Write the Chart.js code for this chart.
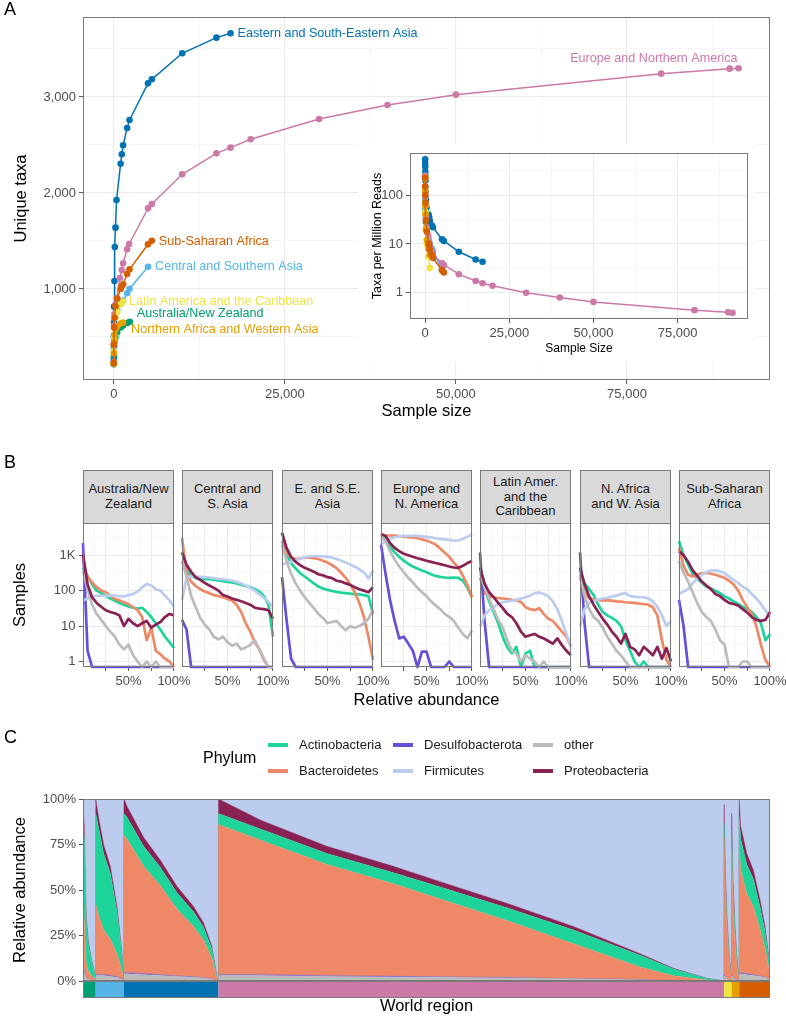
<!DOCTYPE html>
<html>
<head>
<meta charset="utf-8">
<script src="https://cdn.jsdelivr.net/npm/chart.js@4.4.1/dist/chart.umd.min.js"></script>
<style>
  body { margin: 0; background: #fff; font-family: 'Liberation Sans', Arial, sans-serif; }
  #page { position: relative; width: 786px; height: 1019px; overflow: hidden; background: #fff; }
  canvas { position: absolute; }
  .txt { position: absolute; white-space: nowrap; line-height: 1.15; }
  .strip { position: absolute; box-sizing: border-box; background: #d9d9d9; border: 1px solid #7a7a7a;
           display: flex; align-items: center; justify-content: center; text-align: center;
           font-size: 13px; line-height: 14.6px; color: #1a1a1a; }
  .swatch { position: absolute; width: 20px; height: 3.5px; }
</style>
</head>
<body>
<div id="page">
  <canvas id="rare" width="786" height="424" style="left:0;top:0"></canvas>
  <canvas id="inset" width="397" height="218" style="left:358px;top:144px;background:#fff"></canvas>
  <canvas id="comp" width="786" height="299" style="left:0;top:720px"></canvas>
</div>
<script>
// ---------- A: rarefaction curves ----------
const regions = ['Australia/New Zealand', 'Central and Southern Asia', 'Eastern and South-Eastern Asia',
  'Europe and Northern America', 'Latin America and the Caribbean', 'Northern Africa and Western Asia', 'Sub-Saharan Africa'];
const regionColors = ['#009E73', '#56B4E9', '#0072B2', '#CC79A7', '#F0E442', '#E69F00', '#D55E00'];

const sampleSizes = [
  [1, 10, 50, 100, 250, 500, 1000, 1360, 1950, 2340],
  [1, 10, 50, 100, 250, 500, 1000, 1360, 1950, 2300, 5015],
  [1, 10, 25, 50, 100, 150, 250, 400, 1000, 1170, 1360, 1950, 2300, 5000, 5560, 10000, 15000, 17060],
  [1, 10, 50, 100, 250, 440, 880, 1170, 1360, 1950, 2240, 5000, 5560, 10000, 15000, 17060, 20000, 30000, 40000, 50000, 80000, 90000, 91300],
  [1, 10, 50, 100, 250, 500, 1000, 1360],
  [1, 10, 50, 100, 250, 500, 1000, 1360],
  [1, 10, 50, 100, 250, 500, 1000, 1170, 1360, 1950, 2300, 5000, 5560]
];
const uniqueTaxa = [
  [215, 300, 400, 450, 500, 550, 600, 620, 645, 659],
  [250, 380, 520, 600, 700, 780, 850, 880, 955, 1003, 1232],
  [260, 500, 650, 816, 1083, 1437, 1639, 1927, 2305, 2403, 2497, 2677, 2760, 3142, 3184, 3455, 3618, 3663],
  [240, 420, 620, 740, 840, 906, 1114, 1198, 1268, 1413, 1469, 1840, 1885, 2195, 2413, 2472, 2559, 2771, 2917, 3024, 3243, 3295, 3299],
  [230, 350, 500, 600, 700, 760, 840, 868],
  [220, 330, 450, 520, 580, 610, 640, 650],
  [230, 420, 600, 700, 820, 900, 1000, 1030, 1050, 1156, 1205, 1465, 1503]
];
const taxaPerMillion = [
  [250, 150, 80, 50, 28, 18, 10, 8, 6, 5.5],
  [250, 140, 90, 65, 35, 22, 13, 10, 8, 7, 3],
  [540, 450, 380, 300, 200, 120, 80, 55, 40, 35, 30, 24, 22, 12.5, 11.5, 6.9, 4.8, 4.3],
  [250, 150, 90, 60, 35, 22, 15, 11, 9, 7, 6.2, 4.0, 3.7, 2.4, 1.74, 1.56, 1.39, 1.0, 0.80, 0.65, 0.44, 0.40, 0.39],
  [230, 130, 70, 45, 20, 10, 5.5, 3.2],
  [220, 120, 60, 40, 20, 12, 8, 6],
  [230, 150, 100, 70, 30, 18, 10, 9.5, 7.7, 5.9, 5.2, 2.9, 2.6]
];
const sizeTicks = [0, 25000, 50000, 75000];
const taxaTicks = [1000, 2000, 3000];

// ---------- B: phylum abundance histograms ----------
const facetNames = [['Australia/New', 'Zealand'], ['Central and', 'S. Asia'], ['E. and S.E.', 'Asia'],
  ['Europe and', 'N. America'], ['Latin Amer.', 'and the', 'Caribbean'], ['N. Africa', 'and W. Asia'], ['Sub-Saharan', 'Africa']];
const phyla = ['Actinobacteria', 'Bacteroidetes', 'Desulfobacterota', 'Firmicutes', 'other', 'Proteobacteria'];
const phylumColors = ['#1ED49A', '#EE8866', '#6650D8', '#BBCCEE', '#BBBBBB', '#882255'];
const abundance = [0, 5, 10, 15, 20, 25, 30, 35, 40, 45, 50, 55, 60, 65, 70, 75, 80, 85, 90, 95, 100];

// rows follow facetNames
const actinoSamples = [
  [450, 260, 150, 100, 85, 70, 60, 52, 45, 40, 36, 33, 31, 33, 25, 18, 12, 8, 5, 3.5, 2.4],
  [690, 380, 260, 230, 215, 210, 215, 200, 195, 185, 175, 170, 160, 145, 135, 125, 110, 95, 70, 40, 5],
  [2000, 1100, 600, 420, 310, 250, 200, 160, 130, 115, 105, 98, 92, 88, 85, 82, 80, 78, 75, 70, 22],
  [3800, 3000, 1700, 1200, 900, 700, 570, 480, 420, 370, 330, 290, 260, 245, 235, 230, 235, 230, 190, 120, 65],
  [365, 110, 50, 25, 12, 5, 2.5, 1.7, 2.6, 0, 1.7, 2, 0, 0, 0, 0, 0, 0, 0, 0, 0],
  [365, 160, 110, 75, 40, 25, 20, 17, 14, 10, 4, 2, 1, 0, 1, 0, 0, 0, 0, 0, 0],
  [2500, 1000, 550, 300, 220, 170, 130, 115, 100, 85, 70, 60, 50, 42, 35, 30, 25, 18, 12, 4, 6]
];
const bacterSamples = [
  [690, 240, 170, 125, 100, 90, 73, 58, 53, 47, 42, 34, 28, 18, 4, 9, 2, 1.6, 1.2, 1, 0],
  [3100, 330, 180, 135, 110, 95, 85, 75, 70, 65, 58, 53, 40, 25, 12, 7, 3.5, 2.2, 1.1, 0, 0],
  [2500, 1200, 850, 780, 820, 850, 850, 830, 780, 700, 620, 520, 430, 320, 230, 150, 90, 45, 18, 5, 1.1],
  [3500, 3600, 3600, 3550, 3450, 3350, 3250, 3150, 3000, 2800, 2600, 2300, 2000, 1550, 1170, 900, 620, 450, 260, 140, 65],
  [235, 85, 70, 65, 62, 60, 58, 55, 53, 48, 34, 30, 28, 32, 22, 16, 14, 10, 7, 5, 2.6],
  [235, 90, 60, 56, 54, 53, 53, 52, 50, 49, 47, 46, 45, 43, 42, 40, 34, 20, 4, 1.1, 0],
  [1600, 500, 280, 250, 280, 310, 320, 300, 280, 255, 230, 190, 150, 100, 55, 34, 22, 10, 3, 1.1, 0]
];
const desulfoSamples = [
  [2200, 2, 0, 0, 0, 0, 0, 0, 0, 0, 0, 0, 0, 0, 0, 0, 0, 0, 0, 0, 0],
  [15, 8, 0, 0, 0, 0, 0, 0, 0, 0, 0, 0, 0, 0, 0, 0, 0, 0, 0, 0, 0],
  [240, 15, 1.2, 0, 0, 0, 0, 0, 0, 0, 0, 0, 0, 0, 0, 0, 0, 0, 0, 0, 0],
  [2000, 300, 53, 14, 4.5, 5, 3.2, 2, 0, 1.9, 1.9, 0, 0, 0, 0, 1, 0, 0, 0, 0, 0],
  [1200, 14, 0, 0, 0, 0, 0, 0, 0, 0, 0, 0, 0, 0, 0, 0, 0, 0, 0, 0, 0],
  [1200, 12, 0, 0, 0, 0, 0, 0, 0, 0, 0, 0, 0, 0, 0, 0, 0, 0, 0, 0, 0],
  [55, 10, 0, 0, 0, 0, 0, 0, 0, 0, 0, 0, 0, 0, 0, 0, 0, 0, 0, 0, 0]
];
const firmSamples = [
  [53, 60, 68, 72, 73, 70, 72, 73, 70, 68, 75, 80, 95, 125, 155, 140, 110, 100, 73, 53, 35],
  [53, 240, 255, 250, 245, 240, 235, 225, 215, 210, 200, 190, 175, 160, 140, 120, 100, 80, 62, 48, 35],
  [550, 600, 650, 720, 800, 870, 920, 950, 950, 930, 900, 850, 780, 700, 620, 550, 470, 400, 330, 220, 365],
  [2000, 2500, 2900, 3200, 3400, 3500, 3500, 3500, 3500, 3400, 3300, 3200, 3000, 2900, 2800, 2700, 2600, 2600, 2900, 3300, 3900],
  [9.5, 20, 28, 35, 42, 47, 50, 52, 55, 60, 65, 72, 85, 88, 80, 70, 50, 30, 14, 6, 2.6],
  [9.5, 30, 45, 52, 56, 60, 63, 68, 72, 80, 85, 70, 68, 65, 65, 60, 50, 35, 20, 10, 14],
  [80, 95, 110, 160, 220, 280, 330, 370, 380, 350, 310, 250, 200, 165, 130, 110, 80, 60, 42, 28, 18]
];
const otherSamples = [
  [360, 110, 40, 22, 15, 10, 7, 5, 3, 2.2, 3, 1.5, 1, 0, 1, 0, 1, 0, 0, 0, 0],
  [690, 250, 70, 35, 17, 11, 8, 5, 4.2, 5, 3.5, 2.8, 3.2, 2.2, 2.5, 2.9, 4, 2.2, 1.2, 0, 0],
  [2000, 700, 300, 160, 100, 65, 45, 32, 22, 17, 12, 13, 14, 10, 7.6, 10, 9, 10, 12, 16, 28],
  [3300, 2500, 1300, 750, 480, 330, 230, 170, 120, 90, 70, 50, 38, 30, 22, 18, 14, 9, 6, 4.5, 7.6],
  [365, 120, 60, 30, 15, 9, 4, 2, 1.7, 1, 1.5, 1.2, 1, 0, 1, 0, 0, 0, 0, 0, 0],
  [290, 70, 30, 18, 14, 9, 5, 3.2, 2, 1.5, 1, 0, 0, 0, 0, 0, 0, 0, 0, 0, 0],
  [690, 320, 180, 90, 45, 25, 18, 14, 8, 4, 3, 0, 0, 0, 1, 1, 0, 0, 0, 0, 0]
];
const proteoSamples = [
  [1060, 150, 65, 45, 35, 28, 25, 23, 20, 10, 16, 12, 10, 12, 14, 9, 11, 13, 18, 22, 20],
  [1200, 540, 340, 240, 200, 165, 140, 120, 100, 75, 68, 60, 55, 50, 45, 40, 33, 31, 30, 28, 16],
  [4300, 1600, 900, 650, 520, 440, 390, 340, 290, 270, 240, 225, 190, 180, 160, 145, 125, 110, 100, 90, 125],
  [4000, 3500, 2200, 1600, 1300, 1100, 1000, 900, 820, 760, 700, 650, 600, 560, 520, 480, 450, 440, 500, 600, 690],
  [450, 160, 90, 65, 45, 32, 22, 18, 12, 7, 5, 5.5, 6, 5, 4.5, 3.8, 3.2, 4.5, 2.9, 2, 1.5],
  [450, 150, 70, 40, 25, 16, 11, 7, 5, 3.2, 6, 2.6, 2.2, 1.5, 2.6, 2, 1.5, 2.6, 1.2, 2.4, 1],
  [1300, 1000, 650, 380, 260, 180, 140, 110, 80, 70, 55, 45, 42, 38, 30, 24, 18, 15, 14, 15, 25]
];
const phylumSamples = [actinoSamples, bacterSamples, desulfoSamples, firmSamples, otherSamples, proteoSamples];

// ---------- C: per-sample composition, sorted within region ----------
const regionSamples = [2300, 5100, 17060, 91300, 1360, 1360, 5560];
// sample rank inside each region, and % abundance of each phylum at that rank
const compRank = [
  [0, 240, 420, 600, 950, 1500, 2300],
  [0, 520, 1430, 2640, 3850, 4750, 5100],
  [0, 540, 3540, 6550, 9570, 12560, 14370, 15880, 16790, 17060],
  [0, 7545, 19580, 31600, 40030, 52070, 64100, 76130, 82150, 88170, 91300],
  [0, 220, 520, 890, 1360],
  [0, 240, 600, 960, 1360],
  [0, 270, 1370, 2560, 3770, 4670, 5270, 5560]
];
const compOther = [
  [8, 4, 2.5, 1.5, 1, 0.5, 0.1],
  [3, 3, 3, 2.5, 2, 1, 0],
  [4, 4, 3.5, 3, 2.5, 2, 1.6, 1, 0.1, 0],
  [3, 3, 2.5, 2.2, 2, 1.6, 1.2, 0.6, 0.3, 0.1, 0],
  [3, 2, 1, 0.5, 0],
  [3, 2, 1, 0.4, 0],
  [4, 4, 3.5, 3, 2.5, 2, 1, 0.5]
];
const compDesulfo = [
  [1, 1, 0.5, 0.5, 0, 0, 0],
  [0.5, 0.5, 0.5, 0.5, 0.3, 0.2, 0],
  [0.5, 0.5, 0.5, 0.4, 0.3, 0.3, 0.2, 0.1, 0, 0],
  [0.5, 0.5, 0.4, 0.4, 0.3, 0.3, 0.2, 0.1, 0.05, 0, 0],
  [0.5, 0.3, 0.2, 0, 0],
  [0.5, 0.3, 0.2, 0, 0],
  [0.5, 0.5, 0.5, 0.4, 0.3, 0.2, 0.1, 0]
];
const compBacter = [
  [40, 27, 15, 7, 4.5, 2.7, 0.4],
  [38.5, 32.5, 24.5, 20, 12.7, 4.3, 0.4],
  [75.5, 73.5, 59, 49.1, 36.7, 27.7, 20.7, 11.4, 1, 0],
  [82.5, 74, 61.1, 50.9, 42.8, 31.3, 19.1, 7, 2.5, 0.4, 0],
  [75.5, 45.7, 26.8, 10.5, 1.4],
  [67.5, 38.7, 20.3, 7.6, 1.4],
  [70, 56.5, 44, 37.6, 25.7, 15.8, 7.4, 3.4]
];
const compActino = [
  [40, 45, 32, 23, 15, 8, 1.3],
  [50, 48, 42, 36, 23, 8, 0.5],
  [12, 12, 11, 10, 9, 8, 7, 5, 0.7, 0],
  [6, 6, 6, 6, 6.5, 7, 7.5, 6.5, 3.8, 0.9, 0],
  [8, 6, 4, 2.5, 0.3],
  [12, 9, 6, 3, 0.4],
  [16, 17, 16, 15, 12, 9, 5, 2.5]
];
const compProteo = [
  [10, 8, 5, 3, 1.5, 0.8, 0.2],
  [8, 6, 5, 4, 3, 1.5, 0.1],
  [8, 6, 5, 4, 3.5, 3, 2.5, 1.5, 0.2, 0],
  [8, 5, 4, 3.5, 3, 2.5, 2, 0.8, 0.35, 0.1, 0],
  [10, 6, 3, 1.5, 0.3],
  [9, 5, 2.5, 1, 0.2],
  [9, 7, 6, 5, 4, 3, 1.5, 0.6]
];

// ---------- shared look ----------
const FONT = "'Liberation Sans', Arial, sans-serif";
const GRID = '#EBEBEB', GRID_MINOR = '#F4F4F4', BOX = '#7a7a7a', TICK = '#555', TICK_TXT = '#4d4d4d';
Chart.defaults.font.family = FONT;
Chart.defaults.animation = false;
Chart.defaults.plugins.legend.display = false;
Chart.defaults.plugins.tooltip.enabled = false;

const page = document.getElementById('page');
function addText(txt, x, y, size, color, centered) {
  const d = document.createElement('div');
  d.className = 'txt';
  d.textContent = txt;
  d.style.left = x + 'px';
  d.style.top = y + 'px';
  d.style.fontSize = size + 'px';
  d.style.color = color;
  d.style.transform = centered ? 'translate(-50%,-50%)' : 'translate(0,-50%)';
  page.appendChild(d);
}

const fixW = w => s => { s.width = w; s.paddingTop = 0; s.paddingBottom = 0; };
const fixH = h => s => { s.height = h; s.paddingLeft = 0; s.paddingRight = 0; };
const withMinor = (major, minor) => s => {
  s.ticks = major.map(v => ({ value: v })).concat(minor.map(v => ({ value: v, minor: true })))
    .sort((a, b) => a.value - b.value);
};
const grid = drawTicks => ({
  color: c => c.tick && c.tick.minor ? GRID_MINOR : GRID,
  lineWidth: c => c.tick && c.tick.minor ? 0.7 : 1.1,
  drawTicks: drawTicks,
  tickLength: 4,
  tickWidth: 1,
  tickColor: c => c.tick && c.tick.minor ? 'rgba(0,0,0,0)' : TICK
});
const tickFont = size => ({ color: TICK_TXT, font: { size: size }, padding: 3, autoSkip: false, maxRotation: 0 });
const comma = v => v.toLocaleString('en-US');

const boxPlugin = {
  id: 'box',
  afterDraw(chart) {
    const a = chart.chartArea, c = chart.ctx;
    c.save();
    c.strokeStyle = BOX;
    c.lineWidth = 1;
    c.strokeRect(a.left + 0.5, a.top + 0.5, a.right - a.left - 1, a.bottom - a.top - 1);
    c.restore();
  }
};

// ---------- A main ----------
const labelNudge = [[7, -8, 'left'], [7, 0, 'left'], [7, 0, 'left'], [-1, -10, 'right'], [6, 0, 'left'], [8, 7, 'left'], [7, 1, 'left']];
const endLabels = {
  id: 'endLabels',
  afterDatasetsDraw(chart) {
    const c = chart.ctx;
    c.save();
    c.font = '12.6px ' + FONT;
    c.textBaseline = 'middle';
    regions.forEach((r, i) => {
      const pts = chart.getDatasetMeta(i).data;
      const p = pts[pts.length - 1];
      c.fillStyle = regionColors[i];
      c.textAlign = labelNudge[i][2];
      c.fillText(r, p.x + labelNudge[i][0], p.y + labelNudge[i][1]);
    });
    c.restore();
  }
};

function curveSets(values, radius) {
  return regions.map((r, i) => ({
    label: r,
    data: sampleSizes[i].map((n, j) => ({ x: n, y: values[i][j] })),
    borderColor: regionColors[i],
    backgroundColor: regionColors[i],
    borderWidth: 1.5,
    pointRadius: radius,
    pointBorderWidth: 0,
    order: regions.length - i
  }));
}

new Chart(document.getElementById('rare'), {
  type: 'line',
  data: { datasets: curveSets(uniqueTaxa, 3.3) },
  options: {
    responsive: false, devicePixelRatio: 1,
    layout: { padding: { left: 0, top: 17, right: 16, bottom: 0 } },
    scales: {
      x: {
        type: 'linear', min: -4500, max: 95900, bounds: 'data',
        afterFit: fixH(44), afterBuildTicks: withMinor(sizeTicks, [12500, 37500, 62500, 87500]),
        ticks: Object.assign(tickFont(13), { callback: (v, i, t) => t[i].minor ? '' : comma(v) }),
        grid: grid(true), border: { display: false },
        title: { display: true, text: 'Sample size', color: '#000', font: { size: 16.5 }, padding: { top: 0, bottom: 3 } }
      },
      y: {
        type: 'linear', min: 52, max: 3833, bounds: 'data',
        afterFit: fixW(83), afterBuildTicks: withMinor(taxaTicks, [500, 1500, 2500, 3500]),
        ticks: Object.assign(tickFont(13), { callback: (v, i, t) => t[i].minor ? '' : comma(v) }),
        grid: grid(true), border: { display: false },
        title: { display: true, text: 'Unique taxa', color: '#000', font: { size: 16.5 }, padding: { top: 12, bottom: 0 } }
      }
    }
  },
  plugins: [boxPlugin, endLabels]
});

// ---------- A inset ----------
new Chart(document.getElementById('inset'), {
  type: 'line',
  data: { datasets: curveSets(taxaPerMillion, 3.3) },
  options: {
    responsive: false, devicePixelRatio: 1,
    layout: { padding: { left: 0, top: 9, right: 7, bottom: 0 } },
    scales: {
      x: {
        type: 'linear', min: -4500, max: 95900, bounds: 'data',
        afterFit: fixH(43), afterBuildTicks: withMinor(sizeTicks, [12500, 37500, 62500, 87500]),
        ticks: Object.assign(tickFont(13), { callback: (v, i, t) => t[i].minor ? '' : comma(v) }),
        grid: grid(true), border: { display: false },
        title: { display: true, text: 'Sample Size', color: '#000', font: { size: 12 }, padding: { top: 0, bottom: 6 } }
      },
      y: {
        type: 'logarithmic', min: 0.29, max: 728, bounds: 'data',
        afterFit: fixW(52), afterBuildTicks: withMinor([1, 10, 100], [0.3162, 3.162, 31.62, 316.2]),
        ticks: Object.assign(tickFont(13), { callback: (v, i, t) => t[i].minor ? '' : String(v) }),
        grid: grid(true), border: { display: false },
        title: { display: true, text: 'Taxa per Million Reads', color: '#000', font: { size: 12.5 }, padding: { top: 12, bottom: 0 } }
      }
    }
  },
  plugins: [boxPlugin]
});

// ---------- B facets ----------
const facetLeft = [83, 182, 282, 381, 480, 580, 679];
const FACET_W = 91, B_FLOOR = 0.7;
facetNames.forEach((lines, r) => {
  const strip = document.createElement('div');
  strip.className = 'strip';
  strip.style.left = facetLeft[r] + 'px';
  strip.style.top = '470px';
  strip.style.width = FACET_W + 'px';
  strip.style.height = '54px';
  strip.innerHTML = lines.join('<br>');
  page.appendChild(strip);

  const first = r === 0;
  const cv = document.createElement('canvas');
  cv.width = first ? facetLeft[0] + FACET_W + 20 : FACET_W + 40;
  cv.height = 174;
  cv.style.left = (first ? 0 : facetLeft[r] - 20) + 'px';
  cv.style.top = '523px';
  page.appendChild(cv);

  new Chart(cv, {
    type: 'line',
    data: {
      datasets: phyla.map((p, k) => ({
        label: p,
        data: abundance.map((x, j) => {
          const v = phylumSamples[k][r][j];
          return { x: x, y: v > 0 ? v : B_FLOOR };
        }),
        borderColor: phylumColors[k],
        borderWidth: 2.7,
        borderJoinStyle: 'round',
        pointRadius: 0,
        clip: false,
        order: phyla.length - k
      }))
    },
    options: {
      responsive: false, devicePixelRatio: 1,
      layout: { padding: { left: first ? 0 : 20, top: 0, right: 20, bottom: 0 } },
      scales: {
        x: {
          type: 'linear', min: 0, max: 100, bounds: 'data',
          afterFit: fixH(30), afterBuildTicks: withMinor([25, 50, 75, 100], [12.5, 37.5, 62.5, 87.5]),
          ticks: Object.assign(tickFont(13), { callback: v => (v === 50 || v === 100) ? v + '%' : '' }),
          grid: grid(true), border: { display: false }
        },
        y: {
          type: 'logarithmic', min: B_FLOOR, max: 8100, bounds: 'data',
          afterFit: fixW(first ? 83 : 0), afterBuildTicks: withMinor([1, 10, 100, 1000], [3.162, 31.62, 316.2, 3162]),
          ticks: Object.assign(tickFont(13), {
            display: first, padding: 3.5,
            callback: (v, i, t) => t[i].minor ? '' : (v >= 1000 ? (v / 1000) + 'K' : String(v))
          }),
          grid: grid(first), border: { display: false },
          title: { display: first, text: 'Samples', color: '#000', font: { size: 16.5 }, padding: { top: 11, bottom: 0 } }
        }
      }
    },
    plugins: [boxPlugin]
  });
});

// ---------- C composition ----------
const regionStart = [];
regionSamples.reduce((acc, n, i) => { regionStart[i] = acc; return acc + n; }, 0);
const totalSamples = regionSamples.reduce((a, b) => a + b, 0);
const stackParts = [compOther, compDesulfo, compBacter, compActino, compProteo];
const stackColors = [phylumColors[4], phylumColors[2], phylumColors[1], phylumColors[0], phylumColors[5]];

const xs = [], cum = stackParts.map(() => []);
compRank.forEach((ranks, r) => {
  ranks.forEach((rk, j) => {
    xs.push(regionStart[r] + rk);
    let run = 0;
    stackParts.forEach((part, k) => { run += part[r][j]; cum[k].push(run); });
  });
});
const compSets = stackParts.map((part, k) => ({
  data: xs.map((x, j) => ({ x: x, y: cum[k][j] })),
  backgroundColor: stackColors[k],
  borderColor: stackColors[k],
  borderWidth: 0.4,
  pointRadius: 0,
  fill: k === 0 ? 'origin' : '-1'
}));
// Firmicutes fills the rest up to 100 %
compSets.push({
  data: xs.map(x => ({ x: x, y: 100 })),
  backgroundColor: phylumColors[3], borderWidth: 0, pointRadius: 0, fill: '-1'
});

const regionBar = {
  id: 'regionBar',
  afterDraw(chart) {
    const sx = chart.scales.x, a = chart.chartArea, c = chart.ctx;
    c.save();
    regionSamples.forEach((n, r) => {
      const x0 = sx.getPixelForValue(regionStart[r]);
      const x1 = sx.getPixelForValue(regionStart[r] + n);
      c.fillStyle = regionColors[r];
      c.fillRect(x0, a.bottom, x1 - x0, 17);
    });
    c.strokeStyle = BOX;
    c.lineWidth = 1;
    c.strokeRect(a.left + 0.5, a.bottom + 0.5, a.right - a.left - 1, 16);
    c.restore();
  }
};

new Chart(document.getElementById('comp'), {
  type: 'line',
  data: { datasets: compSets },
  options: {
    responsive: false, devicePixelRatio: 1,
    layout: { padding: { left: 0, top: 79, right: 16, bottom: 0 } },
    scales: {
      x: {
        type: 'linear', min: 0, max: totalSamples, bounds: 'data',
        afterFit: fixH(38), ticks: { display: false }, grid: { display: false, drawTicks: false }, border: { display: false },
        title: { display: true, text: 'World region', color: '#000', font: { size: 16.5 }, padding: { top: 0, bottom: 3 } }
      },
      y: {
        type: 'linear', min: 0, max: 100, bounds: 'data',
        afterFit: fixW(83), afterBuildTicks: withMinor([0, 25, 50, 75, 100], []),
        ticks: Object.assign(tickFont(13), { callback: v => v + '%' }),
        grid: { drawOnChartArea: false, tickLength: 4, tickColor: TICK }, border: { display: false },
        title: { display: true, text: 'Relative abundance', color: '#000', font: { size: 16.5 }, padding: { top: 11, bottom: 0 } }
      }
    }
  },
  plugins: [boxPlugin, regionBar]
});

// ---------- text outside the plots ----------
addText('A', 4, 9, 18, '#000', false);
addText('B', 4, 462, 18, '#000', false);
addText('C', 4, 737, 18, '#000', false);
addText('Relative abundance', 426.5, 699, 16.5, '#000', true);

// legend for C (column-wise, as in the reference)
addText('Phylum', 203, 758, 16, '#000', false);
const legendPos = [[268, 745], [268, 771], [393, 745], [393, 771], [533, 745], [533, 771]];
phyla.forEach((p, k) => {
  const sw = document.createElement('div');
  sw.className = 'swatch';
  sw.style.left = legendPos[k][0] + 'px';
  sw.style.top = (legendPos[k][1] - 1.75) + 'px';
  sw.style.background = phylumColors[k];
  page.appendChild(sw);
  addText(p, legendPos[k][0] + 31, legendPos[k][1], 13, '#1a1a1a', false);
});
</script>
</body>
</html>
